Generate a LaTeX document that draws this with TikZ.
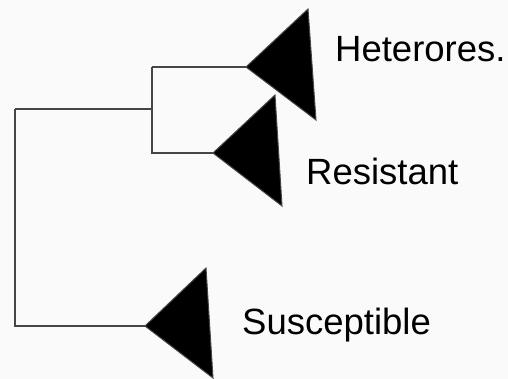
\documentclass[tikz,border=0pt]{standalone}
\usepackage{fontspec}
\setmainfont{Liberation Sans}
\usetikzlibrary{positioning}
\definecolor{paper}{RGB}{250,250,250}
\definecolor{stem}{RGB}{70,70,70}

\begin{document}
\begin{tikzpicture}[x=1pt, y=-1pt,
  branch/.style={draw=stem, line width=1.3pt},
  clade/.style={fill=black, draw=stem, line width=1pt},
  taxon/.style={anchor=base west, inner sep=0pt, font=\fontsize{36.5}{40}\selectfont}]
  \fill[paper] (0,0) rectangle (508,379);
  \useasboundingbox (0,0) rectangle (508,379);
  % splits
  \coordinate (root) at (15,109);
  \coordinate (hr)   at (152,109);
  % collapsed clades
  \coordinate (het) at (246,67);
  \coordinate (res) at (213,153);
  \coordinate (sus) at (145,326);
  \filldraw[clade] (het) -- ++(62,-58) -- ++(8,111) -- cycle;
  \filldraw[clade] (res) -- ++(62,-58) -- ++(7,111) -- cycle;
  \filldraw[clade] (sus) -- ++(61,-58) -- ++(7,110) -- cycle;
  % branches
  \draw[branch] (root) -- (hr);
  \draw[branch] (hr |- het) -- (het);
  \draw[branch] (hr |- het) -- (hr |- res) -- (res);
  \draw[branch] (root) -- (root |- sus) -- (sus);
  % labels
  \node[taxon] (lhet) at (335,62)  {Heterores.};
  \node[taxon] (lres) at (306,185) {Resistant};
  \node[taxon] (lsus) at (242,334) {Susceptible};
\end{tikzpicture}
\end{document}
